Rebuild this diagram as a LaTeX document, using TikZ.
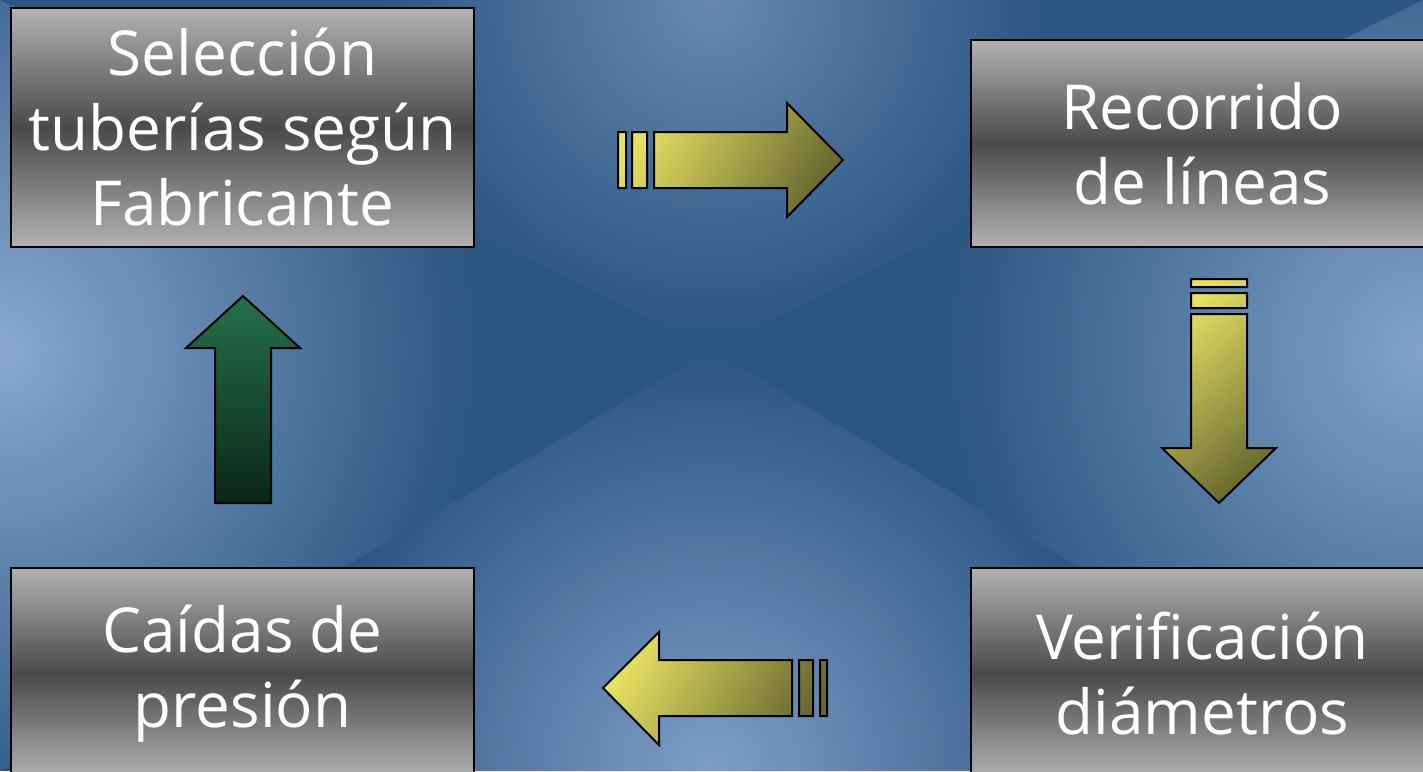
\documentclass[tikz,border=0pt]{standalone}
\usepackage{fontspec}
\setmainfont{Open Sans}
\usetikzlibrary{positioning}

\definecolor{bgdark}{HTML}{2B5680}
\definecolor{bgleft}{HTML}{88A8CF}
\definecolor{bgright}{HTML}{82A2CA}
\definecolor{bgtop}{HTML}{6888B2}
\definecolor{bgbottom}{HTML}{7D9DC8}
\definecolor{boxlight}{HTML}{B2B2B2}
\definecolor{boxdark}{HTML}{4A4A4A}
\definecolor{goldlight}{HTML}{E6E262}
\definecolor{golddark}{HTML}{696830}
\definecolor{greenlight}{HTML}{24714A}
\definecolor{greendark}{HTML}{0B2618}

\tikzset{
  stepbox/.style={draw=black, line width=2pt, top color=boxlight, bottom color=boxlight,
    middle color=boxdark, text=white, align=center, inner sep=0pt,
    font=\fontsize{62}{75}\selectfont},
  goldarrow/.style={draw=black, line width=2pt, top color=goldlight, bottom color=golddark},
  greenarrow/.style={draw=black, line width=2pt, top color=greenlight, bottom color=greendark}
}

\begin{document}
\begin{tikzpicture}[x=1pt, y=-1pt]
\useasboundingbox (0,0) rectangle (1423,771);
\clip (0,0) rectangle (1423,771);
\fill[bgdark] (0,0) rectangle (1423,771);
\begin{scope}
\clip (0,0) -- (1423,0) -- (711,350) -- cycle;
\shade[inner color=bgtop, outer color=bgdark] (711,0) circle (340pt);
\end{scope}
\begin{scope}
\clip (0,0) -- (0,771) -- (711,350) -- cycle;
\shade[inner color=bgleft, outer color=bgdark] (0,350) circle (480pt);
\end{scope}
\begin{scope}
\clip (1423,0) -- (1423,771) -- (711,350) -- cycle;
\shade[inner color=bgright, outer color=bgdark] (1423,350) circle (480pt);
\end{scope}
\begin{scope}
\clip (0,771) -- (1423,771) -- (711,350) -- cycle;
\shade[inner color=bgbottom, outer color=bgdark] (711,771) circle (420pt);
\end{scope}

\node[stepbox, minimum width=463, minimum height=239] (seleccion) at (242.5,127.5)
  {Selección\\tuberías según\\Fabricante};
\node[stepbox, minimum width=463, minimum height=207] (recorrido) at (1202.5,143.5)
  {Recorrido\\de líneas};
\node[stepbox, minimum width=463, minimum height=212] (caidas) at (242.5,674)
  {Caídas de\\presión};
\node[stepbox, minimum width=463, minimum height=212] (verificacion) at (1202.5,674)
  {Verificación\\diámetros};

\path[goldarrow, shading angle=60]
  (618,132) rectangle (626,188)
  (632,132) rectangle (647,188)
  (654,132) -- (787,132) -- (787,103) -- (843,160) -- (787,217) -- (787,188) -- (654,188) -- cycle;
\path[goldarrow, shading angle=40]
  (1191,279) rectangle (1247,287)
  (1191,293) rectangle (1247,308)
  (1191,314) -- (1191,448) -- (1162,448) -- (1219,503) -- (1276,448) -- (1247,448) -- (1247,314) -- cycle;
\path[goldarrow, shading angle=60]
  (603,688) -- (659,632) -- (659,660) -- (792,660) -- (792,716) -- (659,716) -- (659,745) -- cycle
  (799,660) rectangle (813,716)
  (820,660) rectangle (827,716);
\path[greenarrow]
  (243,296) -- (300,348) -- (271,348) -- (271,503) -- (215,503) -- (215,348) -- (186,348) -- cycle;
\end{tikzpicture}
\end{document}
